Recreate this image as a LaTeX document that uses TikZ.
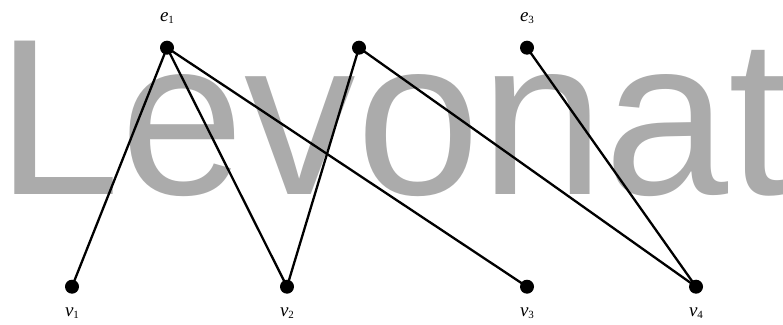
\documentclass[tikz,border=0pt]{standalone}
\usepackage{fontspec}
\setmainfont{Liberation Serif}
\newfontfamily\wmfont{Liberation Sans}
\definecolor{wmgrey}{HTML}{ABABAB}
\newcommand\lbl[2]{\textit{#1}\raisebox{-0.3ex}{\fontsize{11}{11}\selectfont #2}}
\tikzset{
  vdot/.style={circle,fill=black,inner sep=0pt,minimum size=14pt},
  edge/.style={line width=2.3pt,black},
  lab/.style={inner sep=0pt,font=\fontsize{19}{19}\selectfont}
}
\begin{document}
\begin{tikzpicture}[x=1pt,y=1pt]
\useasboundingbox (0,0) rectangle (783,324);
\begin{scope}
\clip (0,0) rectangle (783,324);
\node[anchor=base west,inner sep=0pt,text=wmgrey,font=\wmfont\fontsize{223}{223}\selectfont] (wm) at (-3.6,129) {Levonat};
\end{scope}
\node[vdot] (e1) at (167,276.3) {};
\node[vdot] (e2) at (359,276.3) {};
\node[vdot] (e3) at (527,276.3) {};
\node[vdot] (v1) at (72,37.3) {};
\node[vdot] (v2) at (287,37.3) {};
\node[vdot] (v3) at (527,37.3) {};
\node[vdot] (v4) at (696,37.3) {};
\node[lab] (le1) at (167,306) {\lbl{e}{1}};
\node[lab] (le3) at (527,306) {\lbl{e}{3}};
\node[lab] (lv1) at (72,11) {\lbl{v}{1}};
\node[lab] (lv2) at (287,11) {\lbl{v}{2}};
\node[lab] (lv3) at (527,11) {\lbl{v}{3}};
\node[lab] (lv4) at (696,11) {\lbl{v}{4}};
\draw[edge] (e1.center) -- (v1.center);
\draw[edge] (e1.center) -- (v2.center);
\draw[edge] (e1.center) -- (v3.center);
\draw[edge] (e2.center) -- (v2.center);
\draw[edge] (e2.center) -- (v4.center);
\draw[edge] (e3.center) -- (v4.center);
\end{tikzpicture}
\end{document}
